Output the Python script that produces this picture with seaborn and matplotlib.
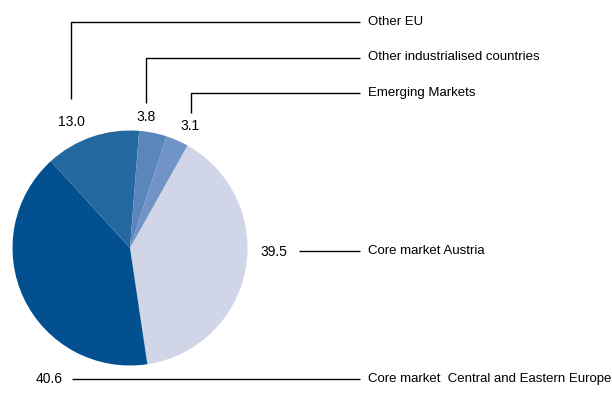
import matplotlib
matplotlib.use("Agg")
import matplotlib.pyplot as plt
import seaborn as sns

# Share of business by region (%)
regions = [
    "Core market Austria",
    "Core market  Central and Eastern Europe",
    "Other EU",
    "Other industrialised countries",
    "Emerging Markets",
]
shares = [39.5, 40.6, 13.0, 3.8, 3.1]
slice_colors = ["#d0d5e8", "#02508f", "#2468a0", "#5a86bc", "#7194c6"]

sns.set_theme(style="white")
plt.rcParams["font.family"] = ["Liberation Sans", "DejaVu Sans"]

W, H = 612, 409
fig = plt.figure(figsize=(W / 100, H / 100), dpi=100)
ax = fig.add_axes([0, 0, 1, 1])

def py(y):
    # top-down pixel row -> axes y
    return H - y

cx, cy, r = 130, py(248), 117.5
ax.pie(
    shares,
    colors=sns.color_palette(slice_colors),
    startangle=60.7,
    counterclock=False,
    center=(cx, cy),
    radius=r,
    wedgeprops=dict(linewidth=0),
)
ax.set_xlim(0, W)
ax.set_ylim(0, H)
ax.set_aspect("equal")
ax.axis("off")

fs_name = 9.55
fs_num = 10.0
line_kw = dict(color="black", lw=1.0, solid_capstyle="butt")
text_x = 368
line_end = 360

# Leader layout per slice: value label position and connector path
layout = {
    "Other EU": dict(num=(71, 122), path=[(70.5, 99), (70.5, 22), (line_end, 22)], ty=22),
    "Other industrialised countries": dict(num=(146, 117), path=[(145.7, 103), (145.7, 57.5), (line_end, 57.5)], ty=57.5),
    "Emerging Markets": dict(num=(190, 126), path=[(190.7, 113), (190.7, 93), (line_end, 93)], ty=93),
    "Core market Austria": dict(num=(274, 252), path=[(299, 251), (line_end, 251)], ty=251),
    "Core market  Central and Eastern Europe": dict(num=(49, 379), path=[(72, 379), (line_end, 379)], ty=379),
}

for name, val in zip(regions, shares):
    d = layout[name]
    nx, ny = d["num"]
    ax.text(nx, py(ny), f"{val:.1f}", ha="center", va="center", fontsize=fs_num, color="black")
    xs = [p[0] for p in d["path"]]
    ys = [py(p[1]) for p in d["path"]]
    ax.plot(xs, ys, **line_kw)
    ax.text(text_x, py(d["ty"]), name, ha="left", va="center", fontsize=fs_name, color="black")

fig.savefig("out.png", dpi=100)
